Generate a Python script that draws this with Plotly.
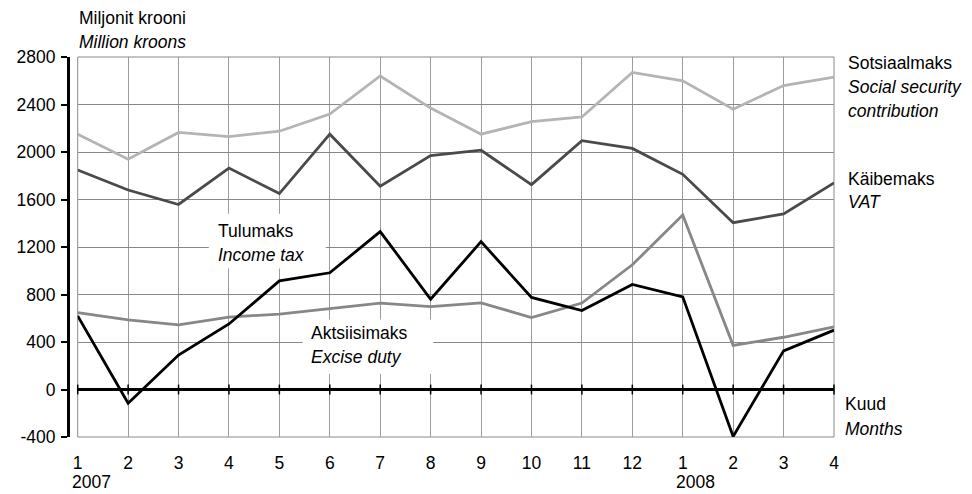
import plotly.graph_objects as go

# months: 2007-01 .. 2008-04
month_labels = ["1", "2", "3", "4", "5", "6", "7", "8", "9", "10", "11", "12", "1", "2", "3", "4"]
x_pos = list(range(1, 17))
y_ticks = [-400, 0, 400, 800, 1200, 1600, 2000, 2400, 2800]
y_tick_labels = ["-400", "0", "400", "800", "1200", "1600", "2000", "2400", "2800"]

social = [2150, 1940, 2165, 2130, 2175, 2320, 2640, 2370, 2150, 2255, 2295, 2670, 2600, 2360, 2560, 2630]
vat = [1848, 1680, 1558, 1865, 1650, 2150, 1712, 1970, 2015, 1725, 2095, 2030, 1812, 1405, 1478, 1740]
income = [620, -115, 290, 552, 915, 983, 1330, 760, 1245, 775, 665, 885, 780, -395, 325, 500]
excise = [648, 586, 544, 610, 635, 680, 728, 698, 730, 605, 728, 1050, 1470, 372, 440, 528]

FONT = "Liberation Sans, Arial, sans-serif"
FS = 17.5

fig = go.Figure()
for vals, col in [(social, "#b4b4b4"), (vat, "#4a4a4a"), (excise, "#878787"), (income, "#000000")]:
    fig.add_trace(go.Scatter(x=x_pos, y=vals, mode="lines",
                             line=dict(color=col, width=2.8), showlegend=False,
                             hoverinfo="skip"))

# tick marks on the zero line
fig.add_trace(go.Scatter(x=x_pos, y=[0] * len(x_pos), mode="markers",
                         marker=dict(symbol="line-ns", size=7,
                                     line=dict(color="black", width=1.5)),
                         showlegend=False, hoverinfo="skip", cliponaxis=False))

# page body has an 8px margin, so the figure is drawn 8px in from the window edge
OFF = 8
W, H = 972 - OFF, 494 - OFF
L, R, T, B = 68 - OFF, 138, 57 - OFF, 57
pw, ph = W - L - R, H - T - B


def px(xpix):
    return (xpix - OFF - L) / pw


def py(ypix):
    return (H - B - (ypix - OFF)) / ph


def txt(s, x, y, italic=False):
    if italic:
        s = "<i>" + s + "</i>"
    fig.add_annotation(text=s, x=px(x), y=py(y), xref="paper", yref="paper",
                       xanchor="left", yanchor="middle", showarrow=False,
                       font=dict(family=FONT, size=FS, color="black"))


# white boxes behind inline labels
fig.add_shape(type="rect", xref="x", yref="y", x0=3.6, x1=5.92, y0=1020, y1=1480,
              fillcolor="white", line=dict(width=0), layer="above")
fig.add_shape(type="rect", xref="x", yref="y", x0=5.46, x1=8.05, y0=130, y1=590,
              fillcolor="white", line=dict(width=0), layer="above")
# plot frame
fig.add_shape(type="rect", xref="x domain", yref="y domain", x0=0, x1=1, y0=0, y1=1,
              line=dict(color="#8a8a8a", width=1), layer="below")

txt("Miljonit krooni", 77, 18)
txt("Million kroons", 77, 42, True)
txt("Sotsiaalmaks", 846, 63)
txt("Social security", 846, 87, True)
txt("contribution", 846, 111, True)
txt("Käibemaks", 846, 179)
txt("VAT", 846, 202, True)
txt("Kuud", 843, 404)
txt("Months", 843, 429, True)
txt("Tulumaks", 216, 231)
txt("Income tax", 216, 255, True)
txt("Aktsiisimaks", 309, 333)
txt("Excise duty", 309, 357, True)
txt("2007", 70, 482)
txt("2008", 674, 482)

fig.update_layout(
    width=W, height=H,
    margin=dict(l=L, r=R, t=T, b=B, autoexpand=False),
    paper_bgcolor="white", plot_bgcolor="white",
    font=dict(family=FONT, size=FS, color="black"),
    xaxis=dict(domain=[9.7 / pw, 1], range=[1, 16], tickvals=x_pos, ticktext=month_labels,
               showgrid=True, gridcolor="#9c9c9c", gridwidth=1, zeroline=False,
               showline=False, ticks="", ticklabelstandoff=13, automargin=False),
    yaxis=dict(range=[-400, 2800], tickvals=y_ticks, ticktext=y_tick_labels,
               anchor="free", position=0, automargin=False,
               showgrid=True, gridcolor="#888888", gridwidth=1,
               zeroline=True, zerolinecolor="black", zerolinewidth=2.5,
               showline=True, linecolor="black", linewidth=3,
               ticks="outside", ticklen=6, tickwidth=1.5, tickcolor="black",
               ticklabelstandoff=2),
)

fig.write_html("out.html")
